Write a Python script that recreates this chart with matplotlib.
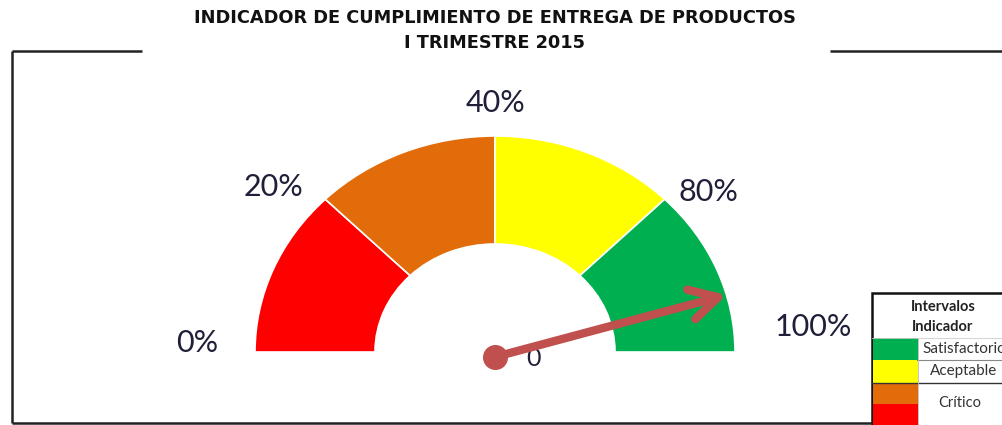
import matplotlib
matplotlib.use("Agg")
import matplotlib.pyplot as plt
from matplotlib.patches import Wedge, Rectangle, FancyArrowPatch
import numpy as np

# ---- data ----
title_lines = ["INDICADOR DE CUMPLIMIENTO DE ENTREGA DE PRODUCTOS", "I TRIMESTRE 2015"]
segment_names = ["Crítico", "Crítico", "Aceptable", "Satisfactorio"]
segment_colors = ["#FF0000", "#E36C0A", "#FFFF00", "#00B050"]
segment_spans = [1, 1, 1, 1]          # equal angular share of the half dial
tick_labels = ["0%", "20%", "40%", "80%", "100%"]
needle_fraction = 0.915               # position of needle along the dial (0 = left, 1 = right)
needle_label = "0"
legend_title = ["Intervalos", "Indicador"]
legend_rows = ["Satisfactorio", "Aceptable", "Crítico"]
legend_colors = ["#00B050", "#FFFF00", "#E36C0A", "#FF0000"]

W, H = 1002, 425
fig = plt.figure(figsize=(W / 100, H / 100), dpi=100)
fig.patch.set_facecolor("white")

# pixel-space background axes
ax0 = fig.add_axes([0, 0, 1, 1])
ax0.set_xlim(0, W)
ax0.set_ylim(H, 0)
ax0.axis("off")

# frame lines
lk = dict(color="#222222", lw=1.8, solid_capstyle="butt")
ax0.plot([12, 142], [51, 51], **lk)
ax0.plot([830, W], [51, 51], **lk)
ax0.plot([12, 12], [51, 423], **lk)
ax0.plot([12, 872], [423, 423], **lk)

# title
ax0.text(495, 18, title_lines[0], ha="center", va="center", fontsize=12.8,
         fontweight="bold", family="DejaVu Sans", color="#111111")
ax0.text(495, 43, title_lines[1], ha="center", va="center", fontsize=12.8,
         fontweight="bold", family="DejaVu Sans", color="#111111")

# gauge axes (unit half circle, elliptical in pixels)
cx, cy, rx, ry = 495, 352, 240, 216
x0, x1 = -1.25, 1.25
y0, y1 = -0.3, 1.25
left = (cx + x0 * rx) / W
right = (cx + x1 * rx) / W
bottom = 1 - (cy - y0 * ry) / H
top = 1 - (cy - y1 * ry) / H
ax = fig.add_axes([left, bottom, right - left, top - bottom])
ax.set_xlim(x0, x1)
ax.set_ylim(y0, y1)
ax.axis("off")

inner = 0.5
total = sum(segment_spans)
start = 180.0
for span, col in zip(segment_spans, segment_colors):
    ang = 180.0 * span / total
    ax.add_patch(Wedge((0, 0), 1.0, start - ang, start, width=1 - inner,
                       facecolor=col, edgecolor="white", lw=1.2))
    start -= ang

# tick labels around dial
label_pos = [(197, 343), (274, 187), (496, 103), (708, 192), (813, 327)]
for lab, (px, py) in zip(tick_labels, label_pos):
    ax0.text(px, py, lab, ha="center", va="center", fontsize=22,
             family="Lato", color="#1F1F3A")

# needle
theta = np.pi * (1 - needle_fraction)
tip = (np.cos(theta) * 1.0, np.sin(theta) * 1.0)
base = (0, -0.023)
needle_col = "#C0504D"
arr = FancyArrowPatch(base, tip, arrowstyle="->,head_length=20,head_width=11",
                      color=needle_col, lw=6, mutation_scale=1,
                      shrinkA=0, shrinkB=0, capstyle="round", joinstyle="round")
ax.add_patch(arr)
ax.plot([base[0]], [base[1]], "o", color=needle_col, markersize=17, zorder=5)
ax0.text(534, 358, needle_label, ha="center", va="center", fontsize=18,
         family="Lato", color="#1F1F3A")

# legend table
lx, ly = 872, 293
sw = 45
rows_y = [338, 360, 383, 404, 430]
ax0.add_patch(Rectangle((lx, ly), W - lx + 5, H - ly + 5, facecolor="white",
                        edgecolor="#111111", lw=1.8))
ax0.text(943, 307, legend_title[0], ha="center", va="center", fontsize=10.5,
         fontweight="bold", family="Lato", color="#222222")
ax0.text(943, 327, legend_title[1], ha="center", va="center", fontsize=10.5,
         fontweight="bold", family="Lato", color="#222222")
for i, col in enumerate(legend_colors):
    ax0.add_patch(Rectangle((lx + 1, rows_y[i]), sw, rows_y[i + 1] - rows_y[i],
                            facecolor=col, edgecolor="none"))
ax0.plot([lx, W], [338, 338], color="#CCCCCC", lw=0.6)
ax0.plot([lx + sw, W], [360, 360], color="#888888", lw=0.8)
ax0.plot([lx, W], [383, 383], color="#333333", lw=1.0)
ax0.plot([lx + sw + 1, lx + sw + 1], [338, 425], color="#BBBBBB", lw=0.6)
ax0.text(922, 349, legend_rows[0], ha="left", va="center", fontsize=11,
         family="Lato", color="#333333")
ax0.text(964, 371, legend_rows[1], ha="center", va="center", fontsize=11,
         family="Lato", color="#333333")
ax0.text(960, 403, legend_rows[2], ha="center", va="center", fontsize=10.5,
         family="Lato", color="#333333")

fig.savefig("out.png", dpi=100)
